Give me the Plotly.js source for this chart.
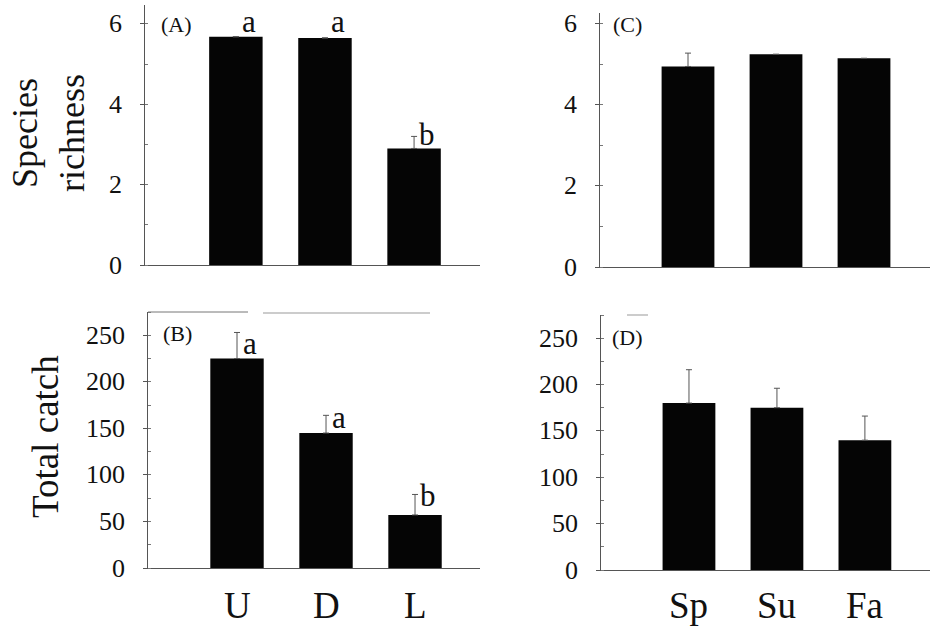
<!DOCTYPE html>
<html>
<head>
<meta charset="utf-8">
<script src="https://cdn.plot.ly/plotly-3.0.1.min.js"></script>
<style>html,body{margin:0;padding:0;background:#fff;}#chart{width:950px;height:626px;}</style>
</head>
<body>
<div id="chart"></div>
<script>
// ---- data ----
const sites = ['U', 'D', 'L'];
const seasons = ['Sp', 'Su', 'Fa'];

const richnessSite = [5.68, 5.65, 2.9];
const richnessSiteErr = [0, 0, 0.3];
const catchSite = [225, 145, 57];
const catchSiteErr = [28, 19, 22];

const richnessSeason = [4.95, 5.25, 5.15];
const richnessSeasonErr = [0.33, 0, 0];
const catchSeason = [180, 175, 140];
const catchSeasonErr = [36, 21, 26];

const richnessTicks = [0, 2, 4, 6];
const catchTicks = [0, 50, 100, 150, 200, 250];

const richnessSiteLetters = ['a', 'a', 'b'];
const richnessSiteLetterY = [6.05, 6.05, 3.25];
const catchSiteLetters = ['a', 'a', 'b'];
const catchSiteLetterY = [241, 162, 78];

const panelLabels = ['(A)', '(B)', '(C)', '(D)'];

// ---- helpers ----
const W = 950, H = 626;
const px = v => v / W;
const py = v => 1 - v / H;
const FONT = 'Liberation Serif';
const INK = '#111';

function barTrace(x, y, err, xa, ya) {
  const up = err.map(e => (e > 0 ? e : null));
  return {
    type: 'bar', x: x, y: y, xaxis: xa, yaxis: ya,
    marker: {color: '#050505', line: {width: 0}},
    error_y: {type: 'data', array: up, arrayminus: err.map(() => 0), symmetric: false,
              visible: true, color: '#555', thickness: 1, width: 3},
    showlegend: false, hoverinfo: 'skip'
  };
}

const data = [
  barTrace(sites, richnessSite, richnessSiteErr, 'x', 'y'),
  barTrace(sites, catchSite, catchSiteErr, 'x2', 'y2'),
  barTrace(seasons, richnessSeason, richnessSeasonErr, 'x3', 'y3'),
  barTrace(seasons, catchSeason, catchSeasonErr, 'x4', 'y4')
];

function xAxis(domPx, range, anchor) {
  return {
    domain: [px(domPx[0]), px(domPx[1])], range: range, anchor: anchor,
    type: 'category', showgrid: false, zeroline: false,
    showline: true, linecolor: '#555', linewidth: 1, ticks: '', showticklabels: false
  };
}
function yAxis(domPx, range, anchor, ticks, minor) {
  return {
    domain: [py(domPx[1]), py(domPx[0])], range: range, anchor: anchor,
    showgrid: false, zeroline: false, showline: true, linecolor: '#555', linewidth: 1,
    ticks: 'outside', ticklen: 4, tickcolor: '#555', tickmode: 'array', tickvals: ticks,
    showticklabels: false,
    minor: {dtick: minor, ticks: 'inside', ticklen: 3, tickcolor: '#777', showgrid: false}
  };
}

const annotations = [];
function txt(o, size) {
  annotations.push(Object.assign({showarrow: false, font: {family: FONT, size: size, color: INK}}, o));
}
// y tick labels (drawn as text at the axis values)
[['y', 145, richnessTicks], ['y2', 148, catchTicks], ['y3', 600, richnessTicks], ['y4', 601, catchTicks]]
  .forEach(([ya, axisPx, ticks]) => ticks.forEach(v => txt({
    xref: 'paper', yref: ya, x: px(axisPx - 21), y: v, text: String(v),
    xanchor: 'right', yanchor: 'middle'
  }, 26)));
// category labels under the lower panels
sites.forEach((s, i) => txt({xref: 'x2', yref: 'paper', x: i, y: py(605), text: s,
  xanchor: 'center', yanchor: 'middle'}, 37));
seasons.forEach((s, i) => txt({xref: 'x4', yref: 'paper', x: i, y: py(605), text: s,
  xanchor: 'center', yanchor: 'middle'}, 37));
// significance letters
richnessSiteLetters.forEach((t, i) => txt({xref: 'x', yref: 'y', x: i + 0.15, y: richnessSiteLetterY[i],
  text: t, xanchor: 'center', yanchor: 'middle'}, 31));
catchSiteLetters.forEach((t, i) => txt({xref: 'x2', yref: 'y2', x: i + 0.15, y: catchSiteLetterY[i],
  text: t, xanchor: 'center', yanchor: 'middle'}, 31));
// panel labels
const labelPos = [[176, 24], [177, 333], [627, 24], [627, 337]];
panelLabels.forEach((t, i) => txt({xref: 'paper', yref: 'paper', x: px(labelPos[i][0]),
  y: py(labelPos[i][1]), text: t, xanchor: 'center', yanchor: 'middle'}, 22));
// axis titles
txt({xref: 'paper', yref: 'paper', x: px(48), y: py(133), text: 'Species<br>richness',
  textangle: -90, xanchor: 'center', yanchor: 'middle'}, 36);
txt({xref: 'paper', yref: 'paper', x: px(45), y: py(437), text: 'Total catch',
  textangle: -90, xanchor: 'center', yanchor: 'middle'}, 37);

const layout = {
  width: W, height: H, margin: {l: 0, r: 0, t: 0, b: 0},
  font: {family: FONT, color: INK},
  paper_bgcolor: '#fff', plot_bgcolor: 'rgba(0,0,0,0)',
  bargap: 0.4, showlegend: false,
  xaxis: xAxis([145, 480], [-1.02, 2.74], 'y'),
  yaxis: yAxis([5, 265], [0, 6.47], 'x', richnessTicks, 1),
  xaxis2: xAxis([148, 480], [-1.0, 2.73], 'y2'),
  yaxis2: yAxis([312, 568], [0, 275], 'x2', catchTicks, 25),
  xaxis3: xAxis([600, 930], [-1.0, 2.75], 'y3'),
  yaxis3: yAxis([13, 267], [0, 6.27], 'x3', richnessTicks, 1),
  xaxis4: xAxis([601, 930], [-1.0, 2.74], 'y4'),
  yaxis4: yAxis([315, 570], [0, 275], 'x4', catchTicks, 25),
  annotations: annotations,
  shapes: [
    {type: 'line', xref: 'paper', yref: 'paper', x0: px(148), x1: px(248), y0: py(312), y1: py(312),
     line: {color: '#777', width: 1}},
    {type: 'line', xref: 'paper', yref: 'paper', x0: px(263), x1: px(430), y0: py(313), y1: py(313),
     line: {color: '#ccc', width: 2}},
    {type: 'line', xref: 'paper', yref: 'paper', x0: px(627), x1: px(648), y0: py(315), y1: py(315),
     line: {color: '#999', width: 1}}
  ]
};

Plotly.newPlot('chart', data, layout, {staticPlot: true, displayModeBar: false});
</script>
</body>
</html>
